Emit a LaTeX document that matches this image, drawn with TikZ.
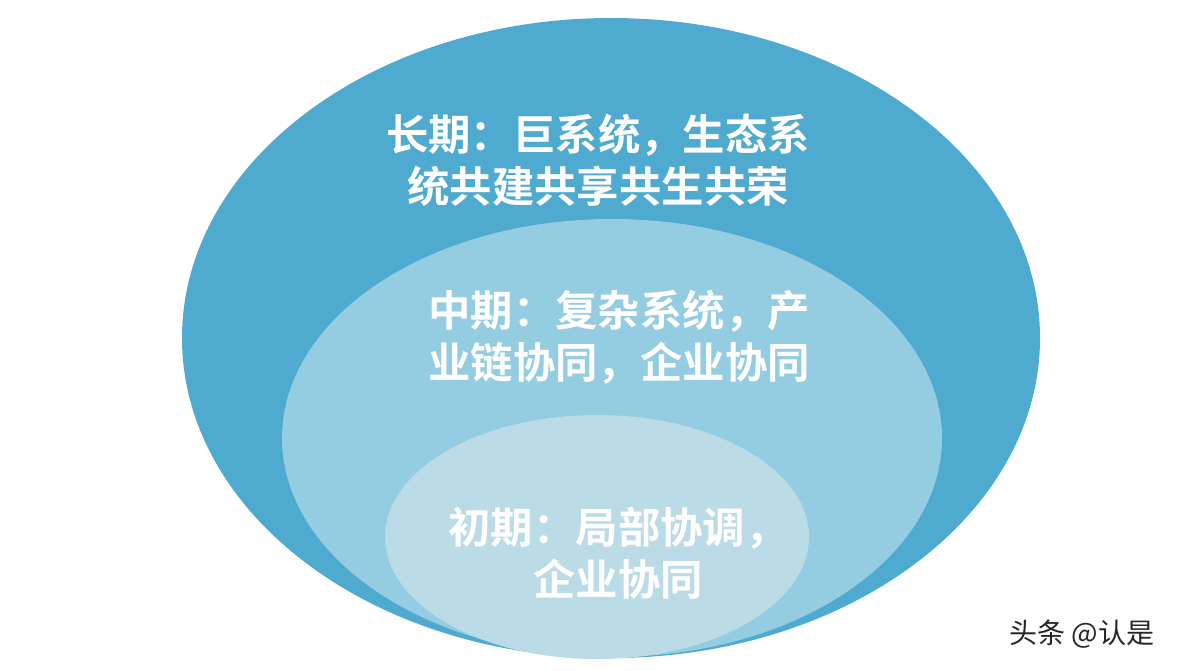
\documentclass[tikz,border=0pt]{standalone}
\usepackage{fontspec}
\newfontfamily\cjk{Noto Sans CJK SC Bold}
\newfontfamily\cjkmark{Noto Sans CJK SC}
\definecolor{longblue}{RGB}{79,170,207}
\definecolor{midblue}{RGB}{148,204,226}
\definecolor{earlyblue}{RGB}{187,220,230}
\tikzset{
  stagetext/.style={text=white, font=\cjk\fontsize{21.2}{26}\selectfont, align=center, inner sep=0pt},
}
\begin{document}
\begin{tikzpicture}[x=0.5pt,y=-0.5pt]
\useasboundingbox (0,0) rectangle (1181,670);
% edit here for the three stages
\fill[longblue] (611,338) ellipse [x radius=429, y radius=320];
\fill[midblue] (612,438) ellipse [x radius=330, y radius=219];
\fill[earlyblue] (597,537) ellipse [x radius=212, y radius=122];
\node[stagetext] (long) at (598,160) {长期：巨系统，生态系\\统共建共享共生共荣};
\node[stagetext] (mid) at (619,337) {中期：复杂系统，产\\业链协同，企业协同};
\node[stagetext] (early) at (618,553) {初期：局部协调，\\企业协同};
\node[font=\cjkmark\fontsize{14}{16}\selectfont, text=black!85, inner sep=0pt] (mark) at (1082,634) {头条 @认是};
\end{tikzpicture}
\end{document}
